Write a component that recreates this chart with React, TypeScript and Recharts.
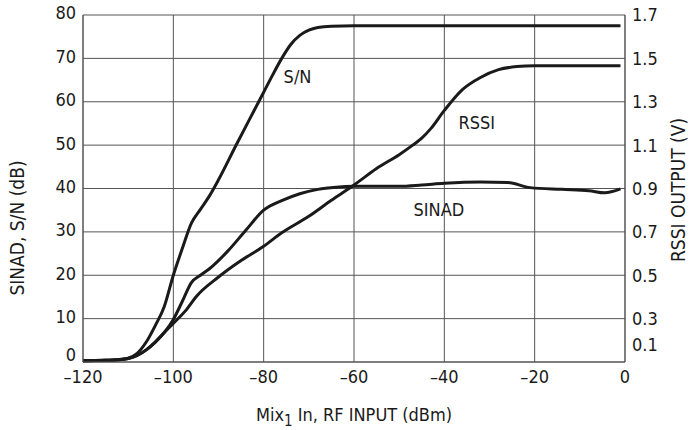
import React from "react";
import {
  LineChart, Line, CartesianGrid, XAxis, YAxis, ReferenceDot,
} from "recharts";

// RF input (dBm) ticks and the two y scales
const inputTicks = [-120, -100, -80, -60, -40, -20, 0];
const dbTicks = [0, 10, 20, 30, 40, 50, 60, 70, 80];
const voltTicks = [0.1, 0.3, 0.5, 0.7, 0.9, 1.1, 1.3, 1.5, 1.7];

// S/N (dB)
const snInput = [-120, -115, -112, -110, -108, -106, -104, -102, -100, -98, -96, -94, -92, -90, -86, -82, -80, -78, -76, -74, -72, -70, -68, -65, -60, -40, -20, -1];
const snDb = [0.3, 0.4, 0.6, 0.9, 2, 4.6, 8.4, 12.8, 20, 26.2, 32, 35.2, 38.3, 42, 50.2, 58.2, 62.2, 66.2, 70, 73.2, 75.3, 76.5, 77.1, 77.4, 77.5, 77.5, 77.5, 77.5];

// SINAD (dB)
const sinadInput = [-120, -115, -112, -110, -108, -106, -104, -102, -100, -98, -96, -94, -92, -88, -84, -80, -76, -72, -68, -64, -60, -50, -45, -40, -32, -26, -21, -14, -8, -4.5, -1];
const sinadDb = [0.3, 0.4, 0.5, 0.8, 1.5, 2.8, 4.6, 6.8, 9.8, 14, 18.3, 20, 21.5, 25.5, 30.3, 35, 37.2, 38.8, 39.8, 40.3, 40.5, 40.5, 40.8, 41.2, 41.5, 41.4, 40.2, 39.8, 39.5, 39, 39.9];

// RSSI output (V)
const rssiInput = [-120, -115, -112, -110, -108, -106, -104, -102, -100, -97, -95, -90, -85, -80, -76, -70, -65, -60, -55, -50, -47, -45, -43, -40, -36, -32, -28, -24, -20, -1];
const rssiVolts = [0.106, 0.108, 0.11, 0.116, 0.13, 0.156, 0.192, 0.236, 0.278, 0.344, 0.4, 0.492, 0.568, 0.634, 0.696, 0.772, 0.846, 0.916, 0.992, 1.056, 1.1, 1.132, 1.176, 1.26, 1.356, 1.412, 1.448, 1.462, 1.466, 1.466];

// curve captions: [text, input dBm, dB]
const captions: [string, number, number][] = [
  ["S/N", -72.5, 65.9],
  ["RSSI", -32.8, 55.2],
  ["SINAD", -41.2, 35.2],
];

const snData = snInput.map((x, i) => ({ x, y: snDb[i] }));
const sinadData = sinadInput.map((x, i) => ({ x, y: sinadDb[i] }));
const rssiData = rssiInput.map((x, i) => ({ x, y: rssiVolts[i] }));

const FONT = "'Liberation Sans Narrow', 'DejaVu Sans Condensed', 'Liberation Sans', sans-serif";
const INK = "#1a1a1a";
const GRID = "#555";
const TICK = 18;

const fmtInput = (v: number) => (v < 0 ? `\u2013${-v}` : `${v}`);

const LeftTick = (props: any) => {
  const { x, y, payload } = props;
  // the 0 is lifted a little so it clears the –120 below it
  const shift = payload.value === 0 ? -7 : -2;
  return (
    <text x={x} y={y + shift} dy="0.355em" textAnchor="end" fill={INK} fontSize={TICK} fontFamily={FONT}>
      {payload.value}
    </text>
  );
};

const RightTick = (props: any) => {
  const { x, y, payload } = props;
  // 0.1 sits raised above the x-axis "0"
  const shift = payload.value === 0.1 ? -17 : 0;
  return (
    <text x={x} y={y + shift} dy="0.355em" textAnchor="start" fill={INK} fontSize={TICK} fontFamily={FONT}>
      {payload.value.toFixed(1)}
    </text>
  );
};

const XTitle = (props: any) => {
  const { x, width } = props.viewBox;
  return (
    <text x={x + width / 2} y={421} textAnchor="middle" fill={INK} fontSize={18} fontFamily={FONT}>
      Mix<tspan dy={5} fontSize={15}>1</tspan>
      <tspan dy={-5}> In, RF INPUT (dBm)</tspan>
    </text>
  );
};

const LeftTitle = () => (
  <text x={17} y={228} transform="rotate(-90, 17, 228)" textAnchor="middle" dominantBaseline="central"
    fill={INK} fontSize={19} fontFamily={FONT}>
    SINAD, S/N (dB)
  </text>
);

const RightTitle = () => (
  <text x={678} y={190} transform="rotate(-90, 678, 190)" textAnchor="middle" dominantBaseline="central"
    fill={INK} fontSize={19} fontFamily={FONT}>
    RSSI OUTPUT (V)
  </text>
);

export default function App() {
  return (
    <div style={{ position: "absolute", left: 0, top: 0, width: 691, height: 430, background: "#fff" }}>
      <LineChart width={691} height={430} margin={{ top: 15, right: 6, bottom: 8, left: 0 }}>
        <CartesianGrid yAxisId="db" stroke={GRID} strokeWidth={1} horizontalValues={dbTicks} verticalValues={inputTicks} />
        <XAxis
          type="number" dataKey="x" domain={[-120, 0]} ticks={inputTicks} allowDataOverflow
          tickFormatter={fmtInput} tickLine={false} tickSize={0} tickMargin={8} height={60}
          stroke={GRID} tick={{ fill: INK, fontSize: TICK, fontFamily: FONT }}
          label={{ content: XTitle }}
        />
        <YAxis
          yAxisId="db" orientation="left" domain={[0, 80]} ticks={dbTicks} width={83}
          tickLine={false} tickSize={0} tickMargin={7} stroke={GRID} tick={LeftTick}
          label={{ content: LeftTitle }}
        />
        <YAxis
          yAxisId="v" orientation="right" domain={[0.1, 1.7]} ticks={voltTicks} width={60}
          tickLine={false} tickSize={0} tickMargin={7} stroke={GRID} tick={RightTick}
          label={{ content: RightTitle }}
        />
        <Line yAxisId="db" data={snData} dataKey="y" type="monotone" stroke={INK} strokeWidth={3} dot={false} isAnimationActive={false} />
        <Line yAxisId="db" data={sinadData} dataKey="y" type="monotone" stroke={INK} strokeWidth={3} dot={false} isAnimationActive={false} />
        <Line yAxisId="v" data={rssiData} dataKey="y" type="monotone" stroke={INK} strokeWidth={3} dot={false} isAnimationActive={false} />
        {captions.map(([text, x, y]) => (
          <ReferenceDot key={text} yAxisId="db" x={x} y={y} r={0} fill="none" stroke="none"
            label={{ value: text, position: "center", fill: INK, fontSize: 18, fontFamily: FONT }} />
        ))}
      </LineChart>
    </div>
  );
}
